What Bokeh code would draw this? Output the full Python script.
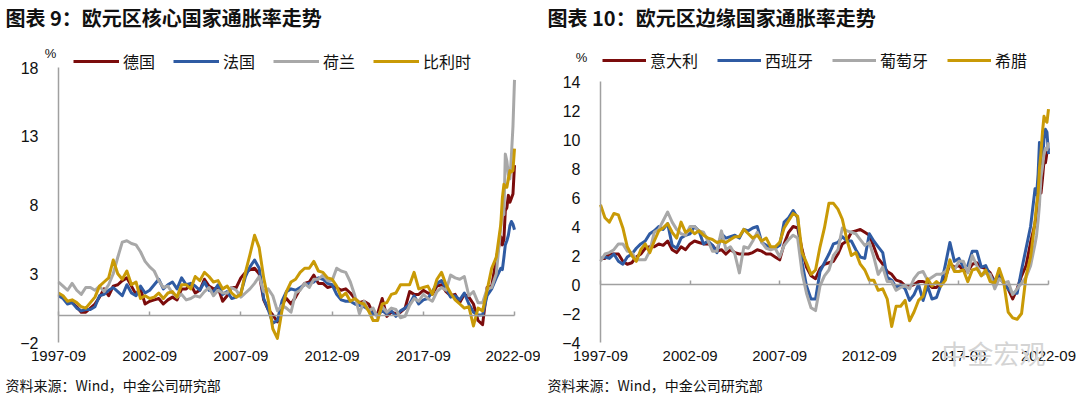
import pandas as pd
from bokeh.plotting import figure
from bokeh.models import (Range1d, FixedTicker, DatetimeTickFormatter, DatetimeAxis, LinearAxis,
                          Legend, LegendItem, Label)
from bokeh.layouts import row
from bokeh.embed import file_html
from bokeh.resources import INLINE

# ---------------- data ----------------
# quarterly 1997-09 .. 2021-12, then monthly 2022-01 .. 2022-09
dates = list(pd.date_range("1997-09-01", "2021-12-01", freq="3MS")) + \
        list(pd.date_range("2022-01-01", "2022-09-01", freq="MS"))

tick_labels = ["1997-09", "2002-09", "2007-09", "2012-09", "2017-09", "2022-09"]

# 图表9
germany = [1.5, 1.3,
           1.0, 0.9, 0.6, 0.2,  0.2, 0.5, 0.8, 1.3,  1.9, 1.4, 2.1, 2.2,  2.5, 2.7, 2.1, 1.5,
           1.9, 0.8, 1.0, 1.1,  1.2, 0.8, 1.1, 1.3,  1.1, 1.9, 1.9, 2.2,  1.6, 1.8, 2.6, 2.1,
           1.9, 2.0, 1.0, 1.4,  2.0, 2.0, 2.7, 3.1,  3.3, 3.4, 3.0, 1.1,  0.4, 0.0, -0.5, 0.8,
           1.2, 0.8, 1.3, 1.9,  2.3, 2.4, 2.9, 2.3,  2.3, 2.0, 2.1, 2.0,  1.8, 1.9, 1.6, 1.2,
           0.9, 1.0, 0.8, 0.1,  0.1, 1.2, -0.1, 0.2,  0.1, 0.2, 0.5, 1.7,  1.5, 1.5, 1.8, 1.6,
           1.5, 2.1, 2.2, 1.7,  1.4, 1.5, 0.9, 1.5,  1.3, 0.8, -0.4, -0.7,  2.0, 2.1, 4.1, 5.7,
           5.1, 5.5, 7.6, 7.8, 8.7, 8.2, 8.5, 8.8, 10.9]
france = [1.4, 1.2,
          0.8, 0.9, 0.5, 0.3,  0.4, 0.4, 0.6, 1.4,  1.5, 1.8, 2.0, 1.7,  1.4, 2.2, 1.6, 1.4,
          2.1, 1.6, 1.8, 2.2,  2.6, 1.9, 2.2, 2.4,  1.9, 2.7, 2.2, 2.3,  2.1, 1.8, 2.4, 1.8,
          1.7, 2.2, 1.5, 1.7,  1.2, 1.3, 1.6, 2.8,  3.5, 4.0, 3.4, 1.2,  0.4, -0.6, -0.4, 1.0,
          1.7, 1.9, 1.8, 2.0,  2.2, 2.3, 2.4, 2.7,  2.6, 2.3, 2.2, 1.5,  1.1, 1.0, 1.0, 0.8,
          0.7, 0.6, 0.4, 0.1,  0.0, 0.3, 0.1, 0.3,  -0.1, 0.3, 0.5, 0.8,  1.4, 0.8, 1.1, 1.2,
          1.7, 2.3, 2.5, 1.9,  1.3, 1.4, 1.1, 1.6,  0.8, 0.2, 0.0, 0.0,  1.4, 1.9, 2.7, 3.4,
          3.3, 4.2, 5.1, 5.4, 5.8, 6.5, 6.8, 6.6, 6.2]
netherlands = [2.4, 2.1,
               1.8, 2.3, 1.8, 1.5,  2.0, 2.0, 1.8, 2.1,  1.7, 2.2, 3.0, 4.2,  5.3, 5.4, 5.2, 5.1,
               4.6, 3.9, 3.5, 3.2,  2.5, 2.0, 2.1, 1.6,  1.3, 1.5, 1.1, 1.2,  1.4, 1.3, 1.7, 2.0,
               1.4, 1.8, 1.6, 1.6,  2.0, 1.8, 1.3, 1.6,  1.9, 2.3, 2.8, 1.7,  1.9, 1.4, 0.3, 0.7,
               0.5, 0.2, 1.6, 1.8,  2.3, 2.0, 2.6, 2.6,  2.9, 2.5, 2.5, 3.4,  3.2, 3.1, 2.4, 1.4,
               0.1, 1.0, 0.3, 0.5,  -0.2, 0.6, 0.2, 0.5,  0.4, -0.2, -0.1, 0.7,  1.2, 1.0, 1.5, 1.2,
               1.0, 1.7, 2.0, 1.8,  2.9, 2.7, 2.6, 2.8,  1.4, 1.7, 0.9, 0.9,  1.9, 2.0, 3.0, 6.4,
               7.6, 7.3, 11.7, 11.2, 10.2, 9.9, 11.6, 13.7, 17.1]
belgium = [1.6, 1.4,
           1.0, 1.1, 0.9, 0.6,  0.5, 0.9, 1.3, 2.1,  2.4, 2.7, 4.0, 3.0,  2.6, 3.2, 2.2, 2.4,
           1.2, 1.4, 1.2, 1.3,  1.6, 1.2, 1.6, 1.7,  1.3, 2.2, 2.2, 1.9,  2.8, 2.5, 3.1, 2.8,
           2.4, 2.5, 1.9, 2.1,  1.6, 1.3, 1.5, 3.1,  4.4, 5.8, 4.9, 2.7,  1.1, -1.0, -1.7, 0.3,
           1.7, 2.4, 2.6, 3.1,  3.4, 3.4, 3.9, 3.2,  3.1, 2.7, 2.6, 2.1,  1.3, 1.6, 1.0, 1.2,
           0.9, 0.8, 0.3, -0.4,  -0.4, 0.8, 0.9, 1.5,  1.6, 2.2, 2.2, 2.2,  3.1, 1.9, 2.0, 2.1,
           1.5, 2.6, 3.1, 2.2,  1.6, 1.1, 0.8, 0.5,  0.6, -0.8, 0.5, 0.3,  1.8, 3.4, 4.2, 6.6,
           8.5, 9.5, 9.3, 9.3, 9.9, 10.5, 10.4, 10.5, 12.1]

# 图表10
italy = [1.8, 1.8,
         2.1, 2.1, 2.1, 1.6,  1.4, 1.5, 1.9, 2.1,  2.5, 2.6, 2.6, 2.8,  2.7, 3.0, 2.4, 2.2,
         2.6, 2.4, 2.8, 3.0,  2.9, 2.8, 2.8, 2.7,  2.3, 2.4, 2.1, 2.4,  2.2, 2.1, 2.1, 2.1,
         2.2, 2.4, 2.3, 2.1,  2.1, 1.9, 1.7, 2.8,  3.6, 4.0, 3.9, 2.4,  1.2, 0.6, 0.4, 1.1,
         1.4, 1.5, 1.6, 2.1,  2.8, 3.0, 3.6, 3.7,  3.8, 3.6, 3.4, 2.6,  1.8, 1.4, 0.9, 0.7,
         0.3, 0.2, -0.1, -0.1,  0.0, 0.2, 0.2, 0.1,  -0.2, -0.2, 0.1, 0.5,  1.4, 1.2, 1.3, 1.0,
         0.9, 1.4, 1.5, 1.2,  1.1, 0.8, 0.2, 0.5,  0.1, -0.3, -1.0, -0.3,  0.6, 1.3, 2.9, 4.2,
         5.1, 6.2, 6.8, 6.3, 7.3, 8.5, 8.4, 9.1, 9.4]
spain = [1.8, 1.9,
         1.8, 2.1, 1.6, 1.4,  1.9, 2.1, 2.5, 2.8,  3.0, 3.5, 3.7, 4.0,  3.8, 4.2, 2.7, 2.5,
         3.2, 3.4, 3.5, 4.0,  3.7, 2.8, 3.0, 2.7,  2.2, 3.5, 3.2, 3.3,  3.4, 3.2, 3.8, 3.7,
         3.9, 4.0, 2.9, 2.7,  2.5, 2.5, 2.7, 4.3,  4.6, 5.1, 4.6, 1.5,  -0.1, -1.0, -1.0, 0.9,
         1.5, 2.1, 2.8, 2.9,  3.3, 3.0, 3.0, 2.4,  1.9, 1.8, 3.5, 3.0,  2.6, 2.2, 0.5, 0.3,
         -0.2, 0.0, -0.3, -1.1,  -0.7, 0.0, -1.1, -0.1,  -1.0, -0.9, 0.0, 1.4,  2.9, 1.6, 1.8, 1.2,
         1.3, 2.3, 2.3, 1.2,  1.3, 0.6, 0.2, 0.8,  0.1, -0.3, -0.6, -0.6,  1.0, 2.5, 4.0, 6.6,
         6.2, 7.6, 9.8, 8.3, 8.5, 10.0, 10.7, 10.5, 9.0]
portugal = [1.6, 2.1,
            2.2, 2.4, 2.8, 2.8,  2.3, 2.2, 1.7, 1.7,  1.7, 2.3, 3.6, 3.8,  4.4, 5.0, 4.3, 3.8,
            3.5, 3.4, 4.0, 4.0,  3.7, 3.6, 3.0, 2.3,  2.3, 3.7, 2.4, 2.6,  2.1, 0.8, 2.6, 2.5,
            3.0, 3.6, 2.9, 2.5,  2.4, 2.5, 1.9, 2.7,  3.1, 3.4, 3.2, 0.8,  -0.6, -1.6, -1.8, -0.1,
            0.6, 1.0, 2.0, 2.4,  3.9, 3.7, 3.6, 3.5,  3.1, 2.7, 2.9, 1.9,  0.7, 1.2, 0.2, 0.2,
            -0.4, -0.2, -0.1, -0.3,  0.4, 0.8, 0.9, 0.3,  0.5, 0.7, 0.7, 0.9,  1.4, 1.0, 1.6, 1.6,
            0.8, 2.0, 1.3, 0.6,  0.8, 0.7, -0.3, 0.4,  0.1, 0.2, -0.7, -0.3,  0.1, 0.5, 1.3, 2.8,
            3.4, 4.4, 5.5, 7.4, 8.1, 9.0, 9.4, 9.3, 9.8]
greece = [5.5, 4.6,
          4.3, 4.9, 4.8, 3.9,  2.6, 2.0, 1.6, 2.4,  2.8, 2.2, 3.0, 3.7,  3.9, 4.2, 3.6, 3.2,
          4.3, 3.6, 3.8, 3.5,  3.7, 3.4, 3.2, 3.1,  2.9, 3.0, 2.9, 3.1,  3.3, 3.3, 3.8, 3.5,
          3.2, 3.4, 3.0, 3.2,  2.6, 2.6, 2.9, 3.9,  4.4, 4.9, 4.7, 2.2,  1.5, 0.7, 1.0, 2.6,
          3.9, 5.6, 5.6, 5.2,  4.5, 3.1, 2.0, 2.2,  1.4, 1.0, 0.3, 0.3,  -0.4, -0.3, -1.0, -2.9,
          -1.5, -1.5, -1.1, -2.5,  -1.9, -1.1, -0.8, 0.4,  -0.1, 0.2, -0.1, 0.3,  1.7, 0.9, 0.9, 1.0,
          0.2, 1.0, 1.1, 0.6,  1.0, 0.2, 0.1, 1.1,  0.2, -1.9, -2.3, -2.4,  -2.0, 0.6, 1.9, 4.4,
          5.5, 6.3, 8.0, 9.1, 10.5, 11.6, 11.3, 11.2, 12.1]

left_names = ["德国", "法国", "荷兰", "比利时"]
right_names = ["意大利", "西班牙", "葡萄牙", "希腊"]
left_ticks = [-2, 3, 8, 13, 18]
right_ticks = [-4, -2, 0, 2, 4, 6, 8, 10, 12, 14]

colors = ["#7B0C0C", "#2F5BA3", "#A8A8A8", "#C99A06"]
CJK = "Noto Sans CJK SC"
LAT = "Liberation Sans"
AXIS_GREY = "#A0A0A0"
FIG_H = 396

T0 = pd.Timestamp("1997-09-01").value / 1e6
T1 = pd.Timestamp("2022-09-01").value / 1e6
tick_ms = [pd.Timestamp(t + "-01").value / 1e6 for t in tick_labels]
fmt = "%Y-%m"


def sy(page_y):
    # canvas y measured upward from the bottom edge
    return FIG_H - page_y


def panel(width, left_px, frame_w, y_lo, y_hi, top_px, bottom_px, y_ticks, series, names,
          leg_x, leg_bottom, glyph_w, spacing, title, title_x, pct_x, pct_y):
    # whole canvas is the plotting frame; axes are placed with fixed_location
    mpp = (T1 - T0) / frame_w
    ppu = (bottom_px - top_px) / (y_hi - y_lo)
    x_start = T0 - left_px * mpp
    x_end = T1 + (width - left_px - frame_w) * mpp
    y_top = y_hi + top_px / ppu
    y_bot = y_lo - (FIG_H - bottom_px) / ppu

    p = figure(width=width, height=FIG_H,
               x_range=Range1d(x_start, x_end), y_range=Range1d(y_bot, y_top),
               x_axis_location=None, y_axis_location=None,
               output_backend="svg", toolbar_location=None, min_border=0)
    p.title.visible = False
    p.outline_line_color = None
    p.xgrid.visible = False
    p.ygrid.visible = False
    p.background_fill_color = "white"
    p.border_fill_color = "white"

    ya = LinearAxis(fixed_location=T0, ticker=FixedTicker(ticks=y_ticks), bounds=(y_lo, y_hi),
                    major_tick_out=0, major_tick_in=0, minor_tick_out=0, minor_tick_in=0,
                    axis_line_color=AXIS_GREY, axis_line_width=1.5,
                    major_label_standoff=20, major_label_text_font=LAT,
                    major_label_text_font_size="16px", major_label_text_color="#111111")
    p.add_layout(ya, "left")

    dfmt = DatetimeTickFormatter(years=fmt, months=fmt, days=fmt, hours=fmt,
                                 minutes=fmt, seconds=fmt, milliseconds=fmt,
                                 microseconds=fmt, hourmin=fmt, minsec=fmt)
    xa = DatetimeAxis(fixed_location=y_lo, ticker=FixedTicker(ticks=tick_ms), formatter=dfmt,
                      axis_line_alpha=0, major_tick_out=0, major_tick_in=0,
                      minor_tick_out=0, minor_tick_in=0, major_label_standoff=8,
                      major_label_text_font=LAT, major_label_text_font_size="15px",
                      major_label_text_color="#111111")
    p.add_layout(xa, "below")

    za = DatetimeAxis(fixed_location=0, ticker=FixedTicker(ticks=tick_ms), bounds=(T0, T1),
                      major_label_text_font_size="0px", major_label_text_alpha=0,
                      major_tick_in=4, major_tick_out=0, minor_tick_in=0, minor_tick_out=0,
                      axis_line_color=AXIS_GREY, axis_line_width=1.5,
                      major_tick_line_color=AXIS_GREY, major_tick_line_width=1.5)
    p.add_layout(za, "below")

    items = []
    for vals, name, c in zip(series, names, colors):
        r = p.line(x=dates, y=vals, line_color=c, line_width=3, line_join="round")
        items.append(LegendItem(label=name, renderers=[r]))

    leg = Legend(items=items, orientation="horizontal", location=(leg_x, leg_bottom),
                 glyph_width=glyph_w, glyph_height=20, label_height=20, label_standoff=4,
                 spacing=spacing, padding=0, margin=0, border_line_alpha=0,
                 background_fill_alpha=0, label_text_font=CJK, label_text_font_size="16px",
                 label_text_color="#111111")
    p.add_layout(leg)

    p.add_layout(Label(x=title_x, y=sy(17), x_units="screen", y_units="screen", text=title,
                       text_font=CJK, text_font_size="20px", text_font_style="bold",
                       text_color="#111111", text_baseline="middle", text_align="left"))
    p.add_layout(Label(x=title_x, y=sy(384), x_units="screen", y_units="screen",
                       text="资料来源：Wind，中金公司研究部",
                       text_font=CJK, text_font_size="14px", text_color="#111111",
                       text_baseline="middle", text_align="left"))
    p.add_layout(Label(x=pct_x, y=sy(pct_y), x_units="screen", y_units="screen", text="%",
                       text_font=LAT, text_font_size="13px", text_color="#111111",
                       text_baseline="middle", text_align="center"))
    return p


# left panel: canvas x 0..540, frame 58..514, y 18 -> 67, -2 -> 342 (page px)
p1 = panel(540, 58, 456, -2, 18, 67, 342, left_ticks,
           [germany, france, netherlands, belgium], left_names,
           73, sy(73), 46, 18, "图表 9：欧元区核心国家通胀率走势", 5, 50, 53)
# right panel: canvas x 540..1076, frame 600..1048, y 14 -> 81, -4 -> 342
p2 = panel(536, 60, 448, -4, 14, 81, 342, right_ticks,
           [italy, spain, portugal, greece], right_names,
           62, sy(72), 44, 19, "图表 10：欧元区边缘国家通胀率走势", 7, 41, 57)
p2.add_layout(Label(x=453, y=sy(352), x_units="screen", y_units="screen", text="中金宏观",
                    text_font=CJK, text_font_size="26px", text_color="#D4D4D4",
                    text_baseline="middle", text_align="center"))

layout = row(p1, p2, spacing=0)
open("out.html", "w").write(file_html(layout, INLINE))
